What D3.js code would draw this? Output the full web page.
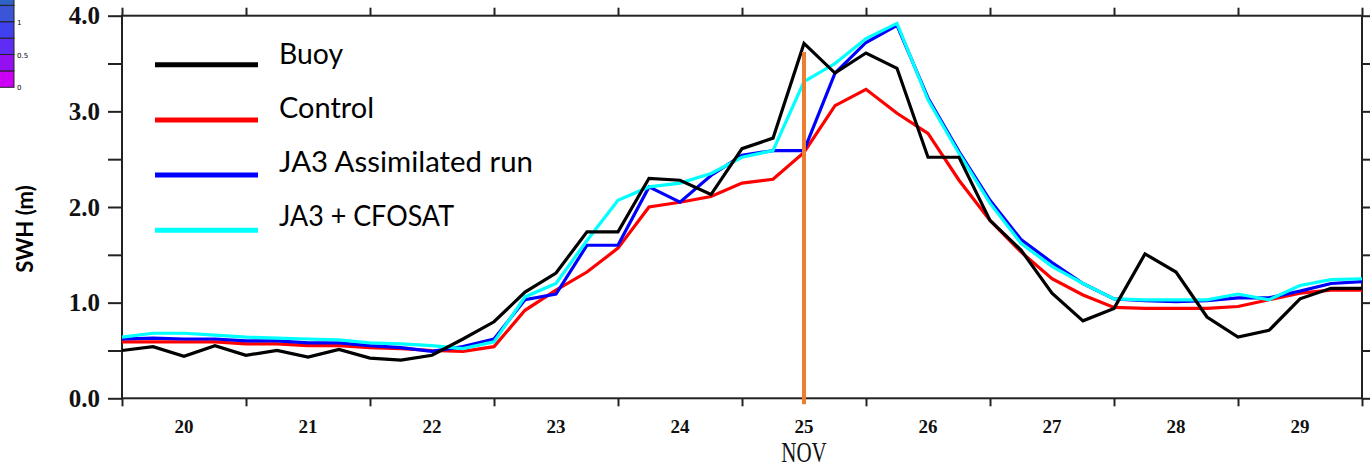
<!DOCTYPE html>
<html>
<head>
<meta charset="utf-8">
<script src="https://cdn.jsdelivr.net/npm/d3@7"></script>
<style>
  html, body { margin: 0; padding: 0; background: #fff; }
  svg { display: block; }
</style>
</head>
<body>
<svg id="chart" width="1370" height="476"></svg>
<script>
// ---------------- data ----------------
// 6-hourly samples from Nov 19 12Z to Nov 29 12Z (41 points)
const startDay = 19.5;
const stepDays = 0.25;
const buoy = [0.50,0.54,0.44,0.55,0.45,0.50,0.43,0.51,0.42,0.40,0.45,0.62,0.80,1.11,1.31,1.74,1.74,2.30,2.28,2.13,2.61,2.72,3.71,3.40,3.61,3.45,2.52,2.52,1.86,1.55,1.10,0.81,0.94,1.51,1.32,0.85,0.64,0.71,1.04,1.15,1.15];
const control = [0.59,0.59,0.59,0.59,0.57,0.57,0.55,0.55,0.53,0.52,0.50,0.49,0.54,0.92,1.13,1.32,1.57,2.00,2.05,2.11,2.25,2.29,2.57,3.06,3.23,2.98,2.77,2.28,1.86,1.53,1.25,1.08,0.95,0.94,0.94,0.94,0.96,1.03,1.10,1.13,1.13];
const ja3 = [0.62,0.63,0.62,0.62,0.60,0.60,0.58,0.58,0.55,0.53,0.49,0.54,0.62,1.03,1.09,1.60,1.60,2.21,2.05,2.33,2.54,2.59,2.59,3.40,3.72,3.90,3.14,2.58,2.07,1.66,1.42,1.20,1.04,1.02,1.01,1.02,1.05,1.05,1.12,1.20,1.22];
const ja3cfosat = [0.64,0.68,0.68,0.66,0.64,0.63,0.62,0.61,0.58,0.57,0.55,0.52,0.59,1.06,1.20,1.65,2.07,2.21,2.25,2.35,2.52,2.59,3.31,3.50,3.76,3.92,3.12,2.56,2.04,1.62,1.38,1.20,1.04,1.03,1.03,1.03,1.09,1.03,1.18,1.24,1.25];

const seriesNames = ["Buoy", "Control", "JA3 Assimilated run", "JA3 + CFOSAT"];
const seriesColors = ["#000000", "#ff0000", "#0000ff", "#00ffff"];

const dayLabels = ["20","21","22","23","24","25","26","27","28","29"];
const dayValues = [20,21,22,23,24,25,26,27,28,29];
const dayTicks = [19.5,20.5,21.5,22.5,23.5,24.5,25.5,26.5,27.5,28.5,29.5];
const monthLabel = "NOV";
const yTickValues = [0,0.5,1,1.5,2,2.5,3,3.5,4];
const yLabelValues = [0,1,2,3,4];
const yTitle = "SWH (m)";

const markerDay = 25;      // vertical orange marker
const markerTop = 3.62;

// colour-bar fragment (top-left corner of original figure)
const cbBounds = [0,0.25,0.5,0.75,1,1.25,1.5];
const cbColors = ["#cc00f5","#9410f2","#5f2cf5","#4140ee","#3a55d6","#2f62c6"];
const cbLabelValues = [1,0.5,0];
const cbLabels = ["1","0.5","0"];

// ---------------- drawing ----------------
const svg = d3.select("#chart");
const L = 122, R = 1362, T = 15.7, B = 398.3;

const x = d3.scaleLinear().domain([19.5, 29.5]).range([L, R]);
const y = d3.scaleLinear().domain([0, 4]).range([B, T]);

// colour bar fragment
const cbY = d3.scaleLinear().domain([0, 1]).range([87.3, 21.7]);
const cb = svg.append("g");
cb.selectAll("rect").data(cbColors).join("rect")
  .attr("x", -2).attr("width", 16)
  .attr("y", (d, i) => cbY(cbBounds[i + 1]))
  .attr("height", (d, i) => cbY(cbBounds[i]) - cbY(cbBounds[i + 1]))
  .attr("fill", d => d).attr("stroke", "#222").attr("stroke-width", 1);
cb.selectAll("text").data(cbLabels).join("text")
  .attr("x", 17).attr("y", (d, i) => cbY(cbLabelValues[i]) + 3)
  .attr("font-family", "DejaVu Sans").attr("font-size", 7).attr("fill", "#000")
  .text(d => d);

// frame
const frameColor = "#222";
svg.append("rect").attr("x", L).attr("y", T).attr("width", R - L).attr("height", B - T)
  .attr("fill", "none").attr("stroke", frameColor).attr("stroke-width", 2);

// axes ticks
function styleAxis(g) {
  g.select(".domain").remove();
  g.selectAll(".tick line").attr("stroke", frameColor).attr("stroke-width", 2);
  g.selectAll(".tick text").remove();
}
svg.append("g").attr("transform", `translate(0,${B})`)
  .call(d3.axisBottom(x).tickValues(dayTicks).tickSize(8).tickSizeOuter(0)).call(styleAxis);
svg.append("g").attr("transform", `translate(0,${T})`)
  .call(d3.axisTop(x).tickValues(dayTicks).tickSize(8).tickSizeOuter(0)).call(styleAxis);
svg.append("g").attr("transform", `translate(${L},0)`)
  .call(d3.axisLeft(y).tickValues(yTickValues).tickSize(14).tickSizeOuter(0)).call(styleAxis);
svg.append("g").attr("transform", `translate(${R},0)`)
  .call(d3.axisRight(y).tickValues(yTickValues).tickSize(8).tickSizeOuter(0)).call(styleAxis);

// tick labels
const serif = "'Liberation Serif', 'DejaVu Serif', serif";
svg.append("g").selectAll("text").data(yLabelValues).join("text")
  .attr("x", 100).attr("y", d => y(d) + 8.5)
  .attr("text-anchor", "end").attr("font-family", serif).attr("font-weight", "bold")
  .attr("font-size", 25).attr("fill", "#111")
  .text(d => d3.format(".1f")(d));

svg.append("g").selectAll("text").data(dayValues).join("text")
  .attr("x", d => x(d)).attr("y", 432.5)
  .attr("text-anchor", "middle").attr("font-family", serif).attr("font-weight", "bold")
  .attr("font-size", 19).attr("fill", "#111")
  .text((d, i) => dayLabels[i]);

svg.append("text")
  .attr("transform", `translate(${x(markerDay)},462) scale(1,1.45)`)
  .attr("text-anchor", "middle").attr("font-family", serif)
  .attr("font-size", 21).attr("fill", "#111")
  .text(monthLabel);

// y title
svg.append("text")
  .attr("transform", `translate(33,229) rotate(-90)`)
  .attr("text-anchor", "middle").attr("font-family", "Lato, 'Open Sans', sans-serif")
  .attr("font-weight", "bold").attr("font-size", 22).attr("fill", "#000")
  .text(yTitle);

// series lines
const times = buoy.map((d, i) => startDay + i * stepDays);
const line = d3.line().x((d, i) => x(times[i])).y(d => y(d));
const seriesData = [buoy, control, ja3, ja3cfosat];
const drawOrder = [1, 2, 3, 0];
svg.append("g").selectAll("path").data(drawOrder).join("path")
  .attr("d", k => line(seriesData[k]))
  .attr("fill", "none").attr("stroke", k => seriesColors[k])
  .attr("stroke-width", 3.2).attr("stroke-linejoin", "miter");

// orange marker
svg.append("line")
  .attr("x1", x(markerDay)).attr("x2", x(markerDay))
  .attr("y1", y(0) + 6).attr("y2", y(markerTop))
  .attr("stroke", "#ed7d31").attr("stroke-width", 4);

// legend
const legendWidths = [64, 95, 254, 175];
const leg = svg.append("g");
seriesNames.forEach((name, i) => {
  const ly = 64.7 + i * 55.2;
  leg.append("line").attr("x1", 155).attr("x2", 258).attr("y1", ly).attr("y2", ly)
    .attr("stroke", seriesColors[i]).attr("stroke-width", 5);
  leg.append("text").attr("x", 279).attr("y", 63.5 + i * 54)
    .attr("font-family", "Lato, 'Open Sans', sans-serif").attr("font-size", 28)
    .attr("fill", "#000")
    .attr("textLength", legendWidths[i]).attr("lengthAdjust", "spacingAndGlyphs")
    .text(name);
});
</script>
</body>
</html>
